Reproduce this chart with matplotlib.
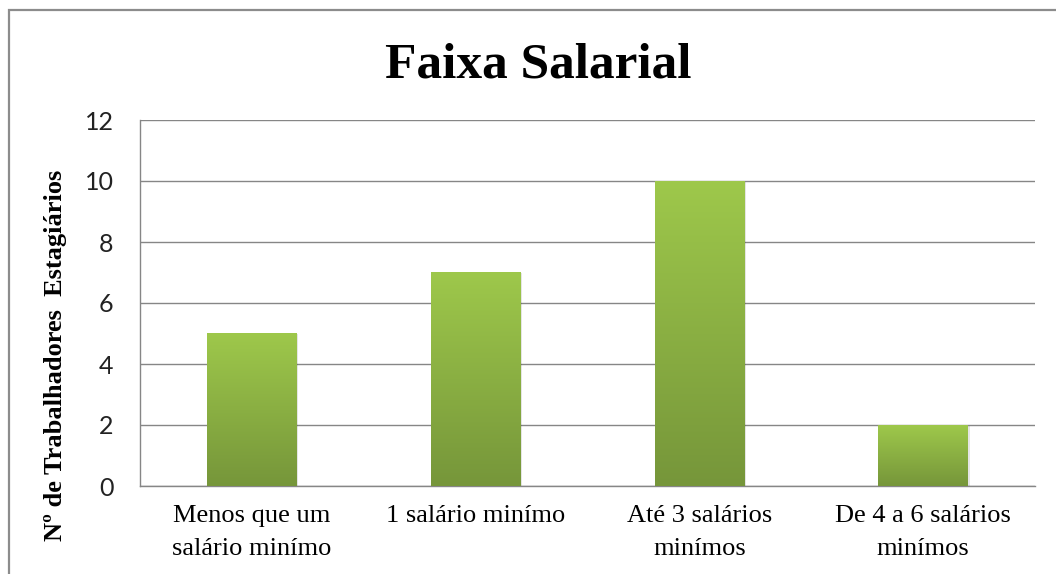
import numpy as np
import matplotlib
matplotlib.use("Agg")
import matplotlib.pyplot as plt
from matplotlib.colors import LinearSegmentedColormap
from matplotlib.patches import Rectangle

# ── 数据 ──────────────────────────────────────────────
categories = ["Menos que um\nsalário minímo", "1 salário minímo",
              "Até 3 salários\nminímos", "De 4 a 6 salários\nminímos"]
values = [5, 7, 10, 2]
yticks = [0, 2, 4, 6, 8, 10, 12]

TITLE = "Faixa Salarial"
YLABEL = "Nº de Trabalhadores  Estagiários"

GRID_C = "#868686"
TOP_C = "#9ec84b"
BOT_C = "#76963a"

fig = plt.figure(figsize=(10.56, 5.74), dpi=100)
ax = fig.add_axes([140 / 1056, 1 - 486 / 574, (1035 - 140) / 1056, (486 - 120) / 574])

x = np.arange(len(categories))
width = 0.40
bars = ax.bar(x, values, width=width, color="none", edgecolor="none", zorder=3)

# 渐变填充
cmap = LinearSegmentedColormap.from_list("grn", [BOT_C, TOP_C])
grad = np.linspace(0, 1, 256).reshape(-1, 1)
for b in bars:
    x0, w, h = b.get_x(), b.get_width(), b.get_height()
    # 轻微阴影
    ax.add_patch(Rectangle((x0 + 0.008, 0), w, h - 0.03, facecolor="#000000",
                           alpha=0.10, edgecolor="none", zorder=2))
    ax.imshow(grad, extent=[x0, x0 + w, 0, h], origin="lower", cmap=cmap,
              aspect="auto", zorder=3)

ax.set_xlim(-0.5, len(categories) - 0.5)
ax.set_ylim(0, 12)
ax.set_yticks(yticks)
ax.set_xticks(x)
ax.set_xticklabels(categories, family="Liberation Serif", fontsize=19,
                   linespacing=1.65)
ax.set_yticklabels([str(v) for v in yticks], family="Lato", fontsize=18,
                   color="#222222")
ax.tick_params(axis="y", length=0, pad=19)
ax.tick_params(axis="x", length=0, pad=14)

ax.yaxis.grid(True, color=GRID_C, linewidth=1.0, zorder=1)
ax.set_axisbelow(True)
for side in ["top", "right"]:
    ax.spines[side].set_visible(False)
ax.spines["left"].set_color(GRID_C)
ax.spines["bottom"].set_color(GRID_C)
ax.spines["left"].set_linewidth(1.0)
ax.spines["bottom"].set_linewidth(1.0)

fig.text(538 / 1056, 1 - 77 / 574, TITLE, family="Liberation Serif",
         fontweight="bold", fontsize=37, ha="center", va="baseline")
fig.text(56 / 1056, 1 - 355 / 574, YLABEL, family="Liberation Serif",
         fontweight="bold", fontsize=19, rotation=90, ha="center", va="center")

# 图表外框
fig.patches.append(Rectangle((9 / 1056, -0.1), 1.2, 1 - 10 / 574 + 0.1,
                             transform=fig.transFigure, fill=False,
                             edgecolor="#8c8c8c", linewidth=1.6))

fig.savefig("out.png", dpi=100)
